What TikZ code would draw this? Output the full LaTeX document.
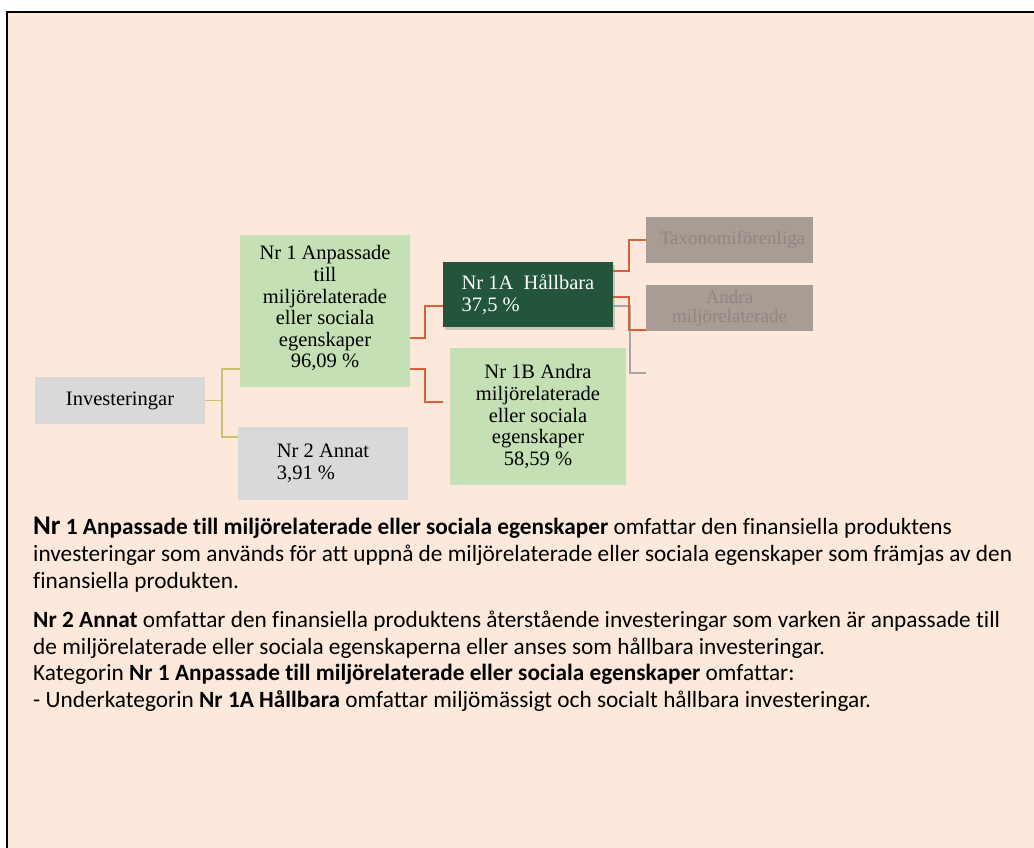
\documentclass[tikz,border=0pt]{standalone}
\usepackage{fontspec}
\setmainfont{Liberation Serif}
\newfontfamily\notefont[Ligatures=NoCommon]{Carlito}
\usetikzlibrary{calc,shadows}

\definecolor{pagebg}{HTML}{FDE9DB}
\definecolor{boxgreen}{HTML}{C5E0B4}
\definecolor{boxgrey}{HTML}{D9D9D9}
\definecolor{boxdark}{HTML}{22553A}
\definecolor{boxfaded}{HTML}{A89D95}
\definecolor{textfaded}{HTML}{918680}
\definecolor{linkolive}{HTML}{CBC172}
\definecolor{linkred}{HTML}{D9603B}
\definecolor{linkgrey}{HTML}{A6A6A6}

\begin{document}
\begin{tikzpicture}[x=1pt, y=-1pt,
    box/.style={inner sep=0pt, minimum width=170pt, align=center,
                font=\fontsize{20.5}{21.6}\selectfont},
    greenbox/.style={box, fill=boxgreen},
    greybox/.style={box, fill=boxgrey},
    darkbox/.style={box, fill=boxdark, text=white, align=left,
                    drop shadow={shadow xshift=2pt, shadow yshift=-3pt, opacity=0.35}},
    fadedbox/.style={box, fill=boxfaded, minimum width=167pt, minimum height=46pt,
                     text=textfaded, font=\fontsize{19}{19}\selectfont},
    link1/.style={draw=linkolive, line width=1.8pt},
    link2/.style={draw=linkred, line width=1.8pt},
    link3/.style={draw=linkgrey, line width=1.8pt},
    note/.style={anchor=base west, inner sep=0pt, font=\notefont\fontsize{23.3}{26}\selectfont}]

    \useasboundingbox (0,0) rectangle (1034,848);
    \fill[white] (0,0) rectangle (1034,848);
    \draw[line width=2pt, fill=pagebg] (7,12) rectangle (1050,870);

    \node[greybox, minimum height=47pt]   (inv)   at (120,400.5) {Investeringar};
    \node[greenbox, minimum height=152pt] (nr1)   at (325,311)   {Nr 1 Anpassade\\till\\miljörelaterade\\eller sociala\\egenskaper\\96,09 \%\\[-13pt]};
    \node[greybox, minimum height=73pt, align=left] (nr2) at (323,463.5) {Nr 2 Annat\\3,91 \%};
    \node[darkbox, minimum height=65pt]   (nr1a)  at (528,294.5) {Nr 1A\ \ Hållbara\\37,5 \%};
    \node[greenbox, minimum width=176pt, minimum height=137pt] (nr1b) at (538,416.5) {Nr 1B Andra\\miljörelaterade\\eller sociala\\egenskaper\\58,59 \%};
    \node[fadedbox] (taxo)  at (729.5,240) {\hspace*{6pt}Taxonomiförenliga};
    \node[fadedbox] (andra) at (729.5,308) {Andra\\miljörelaterade};

    \coordinate (j1) at ($(inv.east)+(17,0)$);
    \draw[link1] (inv.east) -- (j1);
    \draw[link1] ($(nr1.west)+(0,58)$) -| (j1) |- ($(nr2.west)+(0,-26.5)$);

    \draw[link2] ($(nr1.east)+(0,27)$) -- ++(15,0) |- ($(nr1a.west)+(0,11.5)$);
    \coordinate (e1b) at ($(nr1b.west)+(-7,-14.5)$);
    \draw[link2] ($(nr1.east)+(0,58)$) -- ++(15,0) |- (e1b);

    \coordinate (egrey) at ($(andra.west)+(0,65)$);
    \draw[link3] ($(nr1a.east)+(0,11.5)$) -- ++(17,0) |- (egrey);
    \draw[link2] ($(nr1a.east)+(0,-23.5)$) -- ++(16,0) |- (taxo.west);
    \draw[link2] ($(nr1a.east)+(0,2.5)$) -- ++(16,0) |- ($(andra.west)+(0,22)$);

    \node[note] (t1) at (33,534) {\textbf{{\fontsize{27}{28}\selectfont Nr} 1 Anpassade till miljörelaterade eller sociala egenskaper} omfattar den finansiella produktens};
    \node[note] (t2) at (33,561) {investeringar som används för att uppnå de miljörelaterade eller sociala egenskaper som främjas av den};
    \node[note] (t3) at (33,588) {finansiella produkten.};
    \node[note] (t4) at (33,627) {\textbf{Nr 2 Annat} omfattar den finansiella produktens återstående investeringar som varken är anpassade till};
    \node[note] (t5) at (33,654) {de miljörelaterade eller sociala egenskaperna eller anses som hållbara investeringar.};
    \node[note] (t6) at (33,680) {Kategorin \textbf{Nr 1 Anpassade till miljörelaterade eller sociala egenskaper} omfattar:};
    \node[note] (t7) at (33,707) {- Underkategorin \textbf{Nr 1A Hållbara} omfattar miljömässigt och socialt hållbara investeringar.};
\end{tikzpicture}
\end{document}
